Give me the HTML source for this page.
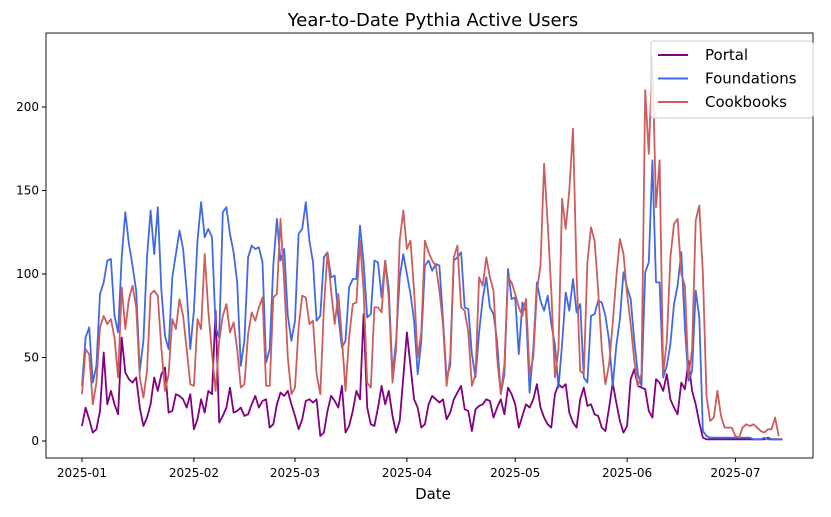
<!DOCTYPE html>
<html><head><meta charset="utf-8"><style>
body{margin:0;background:#fff;font-family:"Liberation Sans","DejaVu Sans",sans-serif}
svg text{font-family:"DejaVu Sans","Liberation Sans",sans-serif}
</style></head><body>
<svg id="chart" width="831" height="512" xmlns="http://www.w3.org/2000/svg">
<rect x="0" y="0" width="831" height="512" fill="#fff"/>
<text x="433" y="26" font-size="18" text-anchor="middle">Year-to-Date Pythia Active Users</text>
<g id="axes"></g>
<g id="series"></g>
<rect x="46" y="33" width="767" height="425" fill="none" stroke="#000" stroke-width="0.9"/>
<text x="433" y="499" font-size="15" text-anchor="middle">Date</text>
<g>
<rect x="651" y="41" width="162" height="77" rx="3" fill="#fff" fill-opacity="0.85" stroke="#ccc"/>
<g id="legend"></g>
</g>
</svg>
<script>
const tickDays=[0,31,59,90,120,151,181];
const tickLabels=["2025-01","2025-02","2025-03","2025-04","2025-05","2025-06","2025-07"];
const yTicks=[0,50,100,150,200];
const seriesNames=["Portal","Foundations","Cookbooks"];
const seriesColors=["#800080","#4169e1","#cd5c5c"];
const portal=[9,20,13,5,7,18,53,22,30,22,16,62,41,37,35,38,20,9,14,22,38,30,40,44,17,18,28,27,25,20,28,
7,13,25,17,30,28,78,11,15,20,32,17,18,20,15,16,22,27,20,24,25,8,10,22,29,27,30,22,
15,7,13,24,25,23,25,3,5,18,27,24,20,33,5,9,18,30,25,76,20,10,9,20,33,22,30,15,5,12,38,
65,45,25,20,8,10,22,27,25,23,25,13,17,25,29,33,19,18,6,19,21,22,25,24,14,20,25,16,32,28,
22,8,15,22,20,25,34,20,14,10,8,28,34,32,34,17,11,8,25,32,21,22,16,15,8,6,20,35,23,12,5,
9,37,43,33,32,31,18,14,37,35,30,40,25,20,16,35,31,48,30,22,11,2,1,1,1,1,1,1,1,1,
1,1,1,1,1,1,1,1,1,2,1,1,1,1];
const foundations=[33,62,68,35,45,88,95,108,109,75,65,110,137,118,105,90,42,60,110,138,112,140,90,63,55,98,112,126,115,90,55,
78,120,143,122,127,122,68,62,137,140,124,113,95,45,60,110,117,115,116,107,47,55,105,133,108,115,75,60,
72,124,127,143,120,107,72,75,110,113,98,99,75,56,60,92,97,97,129,107,74,76,108,107,86,108,91,40,60,98,112,
100,88,72,40,60,105,108,102,106,105,73,38,45,108,110,113,80,79,52,38,65,85,98,80,76,60,28,40,103,85,
86,52,83,78,29,55,95,84,78,87,70,58,32,58,89,78,97,77,82,38,35,75,76,84,83,75,60,33,57,73,101,
92,85,60,40,33,101,107,168,95,95,38,45,58,82,93,113,68,36,42,90,74,6,3,2,2,2,2,2,2,2,
2,2,2,2,2,1,1,1,2,1,1,1,1,1];
const cookbooks=[28,55,52,22,35,68,75,70,73,62,38,92,67,85,93,80,38,26,42,88,90,87,55,30,40,73,67,85,75,55,34,
33,73,67,112,78,52,30,60,75,82,65,71,55,32,34,64,77,72,80,86,33,33,86,88,133,95,50,28,
32,68,87,86,70,72,40,28,80,113,90,70,88,62,30,62,82,83,120,90,35,32,80,80,77,108,85,35,55,120,138,
115,120,90,50,65,120,113,108,105,90,70,33,50,110,117,80,78,65,33,40,98,93,110,98,90,50,28,46,98,95,
88,80,75,85,40,50,90,105,166,130,90,38,55,145,127,150,187,100,42,40,107,128,120,90,55,34,46,70,98,121,112,
88,70,48,33,40,210,172,230,140,168,40,60,110,130,133,100,93,38,55,132,141,100,27,12,14,30,15,8,8,8,
3,2,8,10,9,10,8,6,5,7,7,14,3];
const seriesData=[portal,foundations,cookbooks];
const NS="http://www.w3.org/2000/svg";
const xS=d=>82+d*3.61;
const yS=v=>441-v*1.67;
const axes=document.getElementById('axes');
function mk(tag,attrs,parent){const e=document.createElementNS(NS,tag);for(const k in attrs)e.setAttribute(k,attrs[k]);parent.appendChild(e);return e;}
tickDays.forEach((d,i)=>{
  const t=mk('line',{x1:xS(d),x2:xS(d),y1:458,y2:462,stroke:'#000'},axes);
  
  
  const l=mk('text',{x:xS(d),y:477,'font-size':12,'text-anchor':'middle'},axes);
  l.textContent=tickLabels[i];
  
  
});
yTicks.forEach(v=>{
  const t=mk('line',{x1:42,x2:46,y1:yS(v),y2:yS(v),stroke:'#000'},axes);
  
  
  const l=mk('text',{x:39,y:yS(v)+4,'font-size':12,'text-anchor':'end'},axes);
  l.textContent=v;
  
  
});
const sg=document.getElementById('series');
seriesData.forEach((arr,si)=>{
  const pts=arr.map((v,i)=>xS(i).toFixed(1)+','+yS(v).toFixed(1)).join(' ');
  const p=mk('polyline',{points:pts,fill:'none',stroke:seriesColors[si],'stroke-width':1.8,'stroke-linejoin':'round'},sg);
  
  
});
const lg=document.getElementById('legend');
seriesNames.forEach((n,i)=>{
  const y=55+i*23.5;
  const l=mk('line',{x1:658,x2:688,y1:y,y2:y,stroke:seriesColors[i],'stroke-width':2},lg);
  
  
  const t=mk('text',{x:705,y:y+5,'font-size':15},lg);
  t.textContent=n;
  
  
});
</script>
</body></html>
